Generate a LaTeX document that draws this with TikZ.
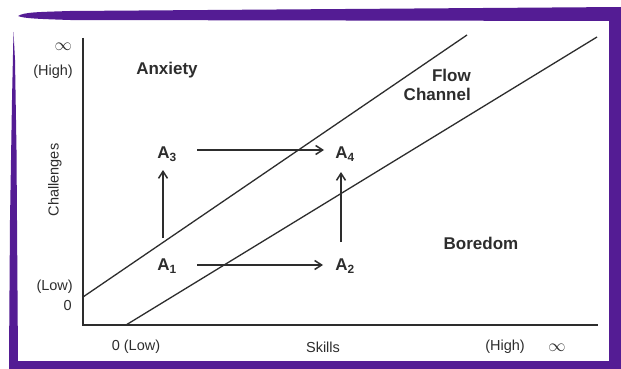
\documentclass[tikz,border=0pt]{standalone}
\usepackage{fontspec}
\setmainfont{Liberation Sans}
\usetikzlibrary{arrows.meta}
\definecolor{frame}{RGB}{84,28,148}
\definecolor{ink}{RGB}{45,45,45}
\tikzset{
  axis/.style={draw=ink,line width=2pt},
  diag/.style={draw=ink,line width=1.3pt},
  arr/.style={draw=ink,line width=1.6pt,-{Straight Barb[length=7pt,width=9pt,line width=1.5pt]}},
  lab/.style={text=ink,inner sep=0pt,font=\fontsize{14.5}{17}\selectfont},
  big/.style={text=ink,inner sep=0pt,font=\fontsize{17}{19}\selectfont\bfseries},
  inf/.style={text=ink,inner sep=0pt,font=\fontsize{16}{16}\selectfont},
}
\newcommand{\Asub}[1]{\textbf{A}\textsubscript{\textbf{#1}}}
\begin{document}
\begin{tikzpicture}[x=1pt,y=-1pt]
\useasboundingbox (0,0) rectangle (621,369);
\fill[white] (0,0) rectangle (621,369);
% frame
\fill[frame] (18,16) .. controls (24,12) and (40,12) .. (70,11) -- (621,7) -- (621,21) -- (70,20) .. controls (40,19) and (24,18.5) .. (18,16) -- cycle;
\fill[frame] (609,7) rectangle (621,369);
\fill[frame] (9,361) rectangle (621,369);
\fill[frame] (13.5,32) -- (15,60) -- (16.5,150) -- (18,361) -- (9,361) -- (10,220) -- (12,100) -- cycle;
% axes
\coordinate (o) at (83,325);
\coordinate (ytop) at (83,38);
\coordinate (xend) at (598,325);
\draw[axis] (ytop) -- (o) -- (xend);
% diagonals
\coordinate (u1) at (83,297);
\coordinate (u2) at (467,35);
\coordinate (l1) at (126,325);
\coordinate (l2) at (597,37);
\draw[diag] (u1) -- (u2);
\draw[diag] (l1) -- (l2);
% axis labels
\node[inf,anchor=east] (inf1) at (72,47) {$\infty$};
\node[lab,anchor=east] (high1) at (73,72) {(High)};
\node[lab,rotate=90] (chal) at (55,180) {Challenges};
\node[lab,anchor=east] (low1) at (73,287) {(Low)};
\node[lab,anchor=east] (zero1) at (72,306) {0};
\node[lab] (low2) at (136,347) {0 (Low)};
\node[lab] (skills) at (323,347) {Skills};
\node[lab] (high2) at (505,347) {(High)};
\node[inf] (inf2) at (557,348) {$\infty$};
% region labels
\node[big] (anx) at (167,70) {Anxiety};
\node[big,align=right,anchor=north east] (flow) at (471,69) {Flow\\Channel};
\node[big] (bore) at (481,243) {Boredom};
% states
\node[big] (a1) at (167,266) {\Asub{1}};
\node[big] (a2) at (345,266) {\Asub{2}};
\node[big] (a3) at (167,154) {\Asub{3}};
\node[big] (a4) at (345,154) {\Asub{4}};
\draw[arr] ([xshift=30pt,yshift=1pt]a1.center) -- ([xshift=-22pt,yshift=1pt]a2.center);
\draw[arr] ([xshift=30pt,yshift=4pt]a3.center) -- ([xshift=-21pt,yshift=4pt]a4.center);
\draw[arr] ([xshift=-4pt,yshift=28pt]a1.center) -- ([xshift=-4pt,yshift=-16pt]a3.center);
\draw[arr] ([xshift=-4pt,yshift=24pt]a2.center) -- ([xshift=-4pt,yshift=-18pt]a4.center);
\end{tikzpicture}
\end{document}
